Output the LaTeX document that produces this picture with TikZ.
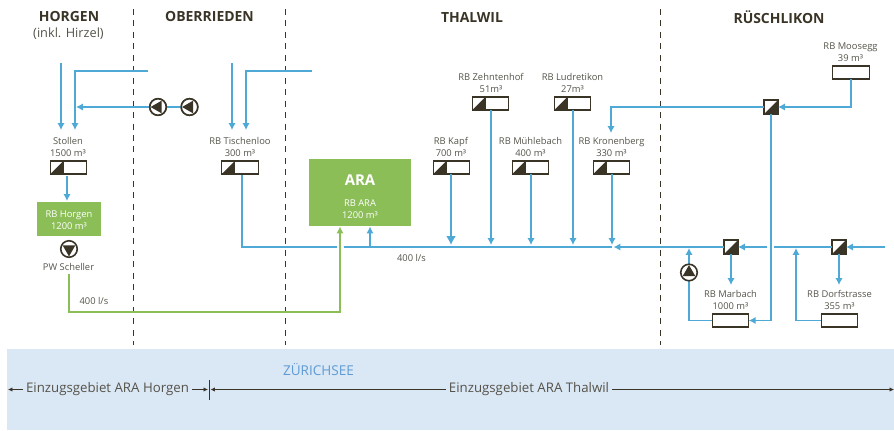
\documentclass[tikz,border=0pt]{standalone}
\usepackage{fontspec}
\setmainfont{Open Sans}
\usetikzlibrary{arrows.meta}
\definecolor{pipe}{HTML}{4FA9D6}
\definecolor{gruen}{HTML}{8CBE58}
\definecolor{dunkel}{HTML}{3A3426}
\definecolor{txt}{HTML}{55534A}
\definecolor{see}{HTML}{DAE7F4}
\definecolor{seetxt}{HTML}{5E9BD4}
\tikzset{
 x=1bp,y=-1bp,
 tank/.style={draw=dunkel,line width=1.1pt,fill=white,minimum width=36.5bp,minimum height=13bp,inner sep=0pt,outer sep=0pt},
 tankfull/.style={tank,path picture={\fill[dunkel] (path picture bounding box.south west) -- ++(13pt,0pt) -- ++(0pt,13pt) -- cycle;
   \draw[dunkel,line width=1pt] ([xshift=13pt]path picture bounding box.south west) -- ++(0pt,13pt);}},
 valve/.style={draw=dunkel,line width=1.1pt,fill=white,minimum size=14bp,inner sep=0pt,outer sep=0pt,path picture={\fill[dunkel] (path picture bounding box.south west) -- (path picture bounding box.south east) -- (path picture bounding box.north east) -- cycle;}},
 pump/.style={circle,draw=dunkel,line width=1.6pt,fill=white,minimum size=16.5bp,inner sep=0pt,outer sep=0pt,path picture={\fill[dunkel] ([shift={(#1:7.4pt)}]path picture bounding box.center) -- ([shift={(#1+120:7.4pt)}]path picture bounding box.center) -- ([shift={(#1+240:7.4pt)}]path picture bounding box.center) -- cycle;}},
 lbl/.style={text=txt,font=\fontsize{9.4}{12}\selectfont,align=center,inner sep=0pt},
 head/.style={text=dunkel,font=\fontsize{14}{16}\selectfont\bfseries,inner sep=0pt},
 gbox/.style={fill=gruen,inner sep=0pt},
 ltxt/.style={text=white,font=\fontsize{9.4}{12}\selectfont,align=center,inner sep=0pt},
 bl/.style={draw=pipe,line width=1.7pt},
 ba/.style={bl,-{Latex[length=7pt,width=7.5pt]}},
 gr/.style={draw=gruen,line width=1.7pt},
 sep/.style={draw=dunkel,line width=0.8pt,dash pattern=on 6pt off 5.5pt},
 bot/.style={draw=dunkel,line width=0.8pt},
 bottxt/.style={text=txt,font=\fontsize{13.3}{15}\selectfont,inner sep=0pt},
}
\begin{document}
\begin{tikzpicture}
\useasboundingbox (0,0) rectangle (894,430);
\fill[see] (7,349) rectangle (894,430);
% separators
\coordinate (s1a) at (133,9); \coordinate (s1b) at (133,345);
\coordinate (s2a) at (285,9); \coordinate (s2b) at (285,345);
\coordinate (s3a) at (660,9); \coordinate (s3b) at (660,345);
\draw[sep] (s1a) -- (s1b); \draw[sep] (s2a) -- (s2b); \draw[sep] (s3a) -- (s3b);
% titles
\node[head] (thorgen) at (69,17) {HORGEN};
\node[text=txt,font=\fontsize{12.8}{15}\selectfont,inner sep=0pt] (tinkl) at (68.5,33.5) {(inkl. Hirzel)};
\node[head] (tober) at (209.5,17) {OBERRIEDEN};
\node[head] (tthal) at (472,17) {THALWIL};
\node[head] (true) at (779,17) {RÜSCHLIKON};
% tanks
\node[tankfull] (stollen) at (68.5,167.5) {};
\node[tankfull] (tischen) at (240,167.5) {};
\node[tankfull] (kapf) at (451.5,167.5) {};
\node[tankfull] (muehle) at (530.5,167.5) {};
\node[tankfull] (krone) at (611.5,167.5) {};
\node[tankfull] (zehn) at (490.5,103.5) {};
\node[tankfull] (ludre) at (572.5,103.5) {};
\node[tank] (moos) at (851,72.5) {};
\node[tank] (marb) at (730.5,320.5) {};
\node[tank] (dorf) at (839.5,320.5) {};
% labels
\node[lbl] (l1) at (68,146.7) {Stollen\\1500 m³};
\node[lbl] (l2) at (240,146.7) {RB Tischenloo\\300 m³};
\node[lbl] (l3) at (451,146.7) {RB Kapf\\700 m³};
\node[lbl] (l4) at (530.5,146.7) {RB Mühlebach\\400 m³};
\node[lbl] (l5) at (611.5,146.7) {RB Kronenberg\\330 m³};
\node[lbl] (l6) at (491,82.5) {RB Zehntenhof\\51m³};
\node[lbl] (l7) at (572.5,82.5) {RB Ludretikon\\27m³};
\node[lbl] (l8) at (850.5,52.5) {RB Moosegg\\39 m³};
\node[lbl] (l9) at (730.5,300) {RB Marbach\\1000 m³};
\node[lbl] (l10) at (839.5,300) {RB Dorfstrasse\\355 m³};
\node[lbl] (l11) at (68.5,266.5) {PW Scheller};
\node[lbl] (q1) at (94,300.5) {400 l/s};
\node[lbl] (q2) at (411.5,257.5) {400 l/s};
% green boxes
\node[gbox,minimum width=64bp,minimum height=34bp] (horgen) at (69,219) {};
\node[ltxt] (horgent) at (69,220) {RB Horgen\\1200 m³};
\node[gbox,minimum width=102bp,minimum height=67bp] (ara) at (360,192.5) {};
\node[text=white,font=\fontsize{15}{17}\selectfont\bfseries,inner sep=0pt] (arat) at (360,180) {ARA};
\node[ltxt] (arat2) at (360,209.5) {RB ARA\\1200 m³};
% free ends
\coordinate (a1) at (61,63); \coordinate (a2) at (61,130);
\coordinate (b1) at (148,71); \coordinate (b2) at (75,71); \coordinate (b3) at (75,130);
\coordinate (c2) at (76,107);
\coordinate (d1) at (232,63); \coordinate (d2) at (232,130);
\coordinate (e1) at (312,71); \coordinate (e2) at (246,71); \coordinate (e3) at (246,130);
\coordinate (st) at (67,176); \coordinate (hz) at (67,201);
\coordinate (m1) at (242,175); \coordinate (m2) at (242,247); \coordinate (m3) at (337,247);
\coordinate (m4) at (343.5,247); \coordinate (m5) at (612,247);
\coordinate (ar0) at (370,247); \coordinate (ar1) at (370,226.5);
\coordinate (kr1) at (611,107); \coordinate (kr2) at (611,133);
\coordinate (g1) at (69,274); \coordinate (g2) at (69,312); \coordinate (g3) at (340,312); \coordinate (g4) at (340,226.5);
\coordinate (x1) at (771,320.5); \coordinate (x2) at (767,247); \coordinate (x3) at (774,247);
\coordinate (y1) at (885,247); \coordinate (mr1) at (613.5,247);
\coordinate (j1) at (689,248); \coordinate (j2) at (796,248);
\coordinate (mo) at (851,107);
% blue connectors (drawn below pumps and valves)
\draw[ba] (a1) -- (a2);
\draw[ba] (b1) -- (b2) -- (b3);
\draw[ba] (d1) -- (d2);
\draw[ba] (e1) -- (e2) -- (e3);
\draw[ba] (st) -- (hz);
\draw[bl] (m1) -- (m2) -- (m3);
\draw[bl] (m4) -- (m5);
\draw[ba] (ar0) -- (ar1);
\draw[ba] (marb.west) -| (j1);
\draw[ba] (dorf.west) -| (j2);
% pumps and valves
\node[pump=180] (p1) at (158,107) {};
\node[pump=180] (p2) at (189.5,107) {};
\node[pump=270] (p3) at (69,249) {};
\node[pump=90] (p4) at (689,272.5) {};
\node[valve] (v1) at (771,107) {};
\node[valve] (v2) at (731,247) {};
\node[valve] (v3) at (839,247) {};
\draw[ba] (p1) -- (c2);
\draw[bl] (p2) -- (p1);
\node[pump=180] at (p1) {};
\node[pump=180] at (p2) {};
\draw[-{Latex[length=9pt,width=10pt]},draw=pipe,line width=1.7pt] ([xshift=-0.5bp]kapf.south) -- ++(0pt,-71bp);
\draw[ba] ([xshift=0.5bp]zehn.south) -- ++(0pt,-135bp);
\draw[ba] ([xshift=0.5bp]muehle.south) -- ++(0pt,-71bp);
\draw[ba] ([xshift=0.5bp]ludre.south) -- ++(0pt,-135bp);
\draw[ba] ([xshift=0.5bp]krone.south) -- ++(0pt,-71bp);
\draw[ba] (v2.west) -- (mr1);
\draw[ba] (v1.west) -- (kr1) -- (kr2);
\draw[ba] (moos.south) -- (mo) -- (v1.east);
\draw[ba] (v1.south) -- (x1) -- (marb.east);
\draw[ba] (x2) -- (v2.east);
\draw[bl] (x3) -- (v3.west);
\draw[ba] (y1) -- (v3.east);
\draw[ba] (v2.south) -- ++(0pt,-31bp);
\draw[ba] (v3.south) -- ++(0pt,-31bp);
% green connector
\draw[gr,-{Latex[length=7pt,width=7.5pt]}] (g1) -- (g2) -- (g3) -- (g4);
% lake texts
\node[text=seetxt,font=\fontsize{13.6}{16}\selectfont,inner sep=0pt] (zs) at (318.5,370) {ZÜRICHSEE};
\node[bottxt] (eh) at (107.5,389) {Einzugsgebiet ARA Horgen};
\node[bottxt] (et) at (529,389) {Einzugsgebiet ARA Thalwil};
\coordinate (t1) at (209,380); \coordinate (t2) at (209,399.5);
\coordinate (e0) at (8,389.5); \coordinate (eR) at (894,389.5);
\coordinate (tl) at (208,389.5); \coordinate (tr) at (210.5,389.5);
\draw[bot] (t1) -- (t2);
\draw[bot,-{Latex[length=4.5pt,width=4.5pt]}] (eh.west |- e0) ++(-3pt,0pt) -- (e0);
\draw[bot,-{Latex[length=4.5pt,width=4.5pt]}] (eh.east |- e0) ++(3pt,0pt) -- (tl);
\draw[bot,-{Latex[length=4.5pt,width=4.5pt]}] (et.west |- e0) ++(-3pt,0pt) -- (tr);
\draw[bot,-{Latex[length=4.5pt,width=4.5pt]}] (et.east |- e0) ++(3pt,0pt) -- (eR);
\end{tikzpicture}
\end{document}
